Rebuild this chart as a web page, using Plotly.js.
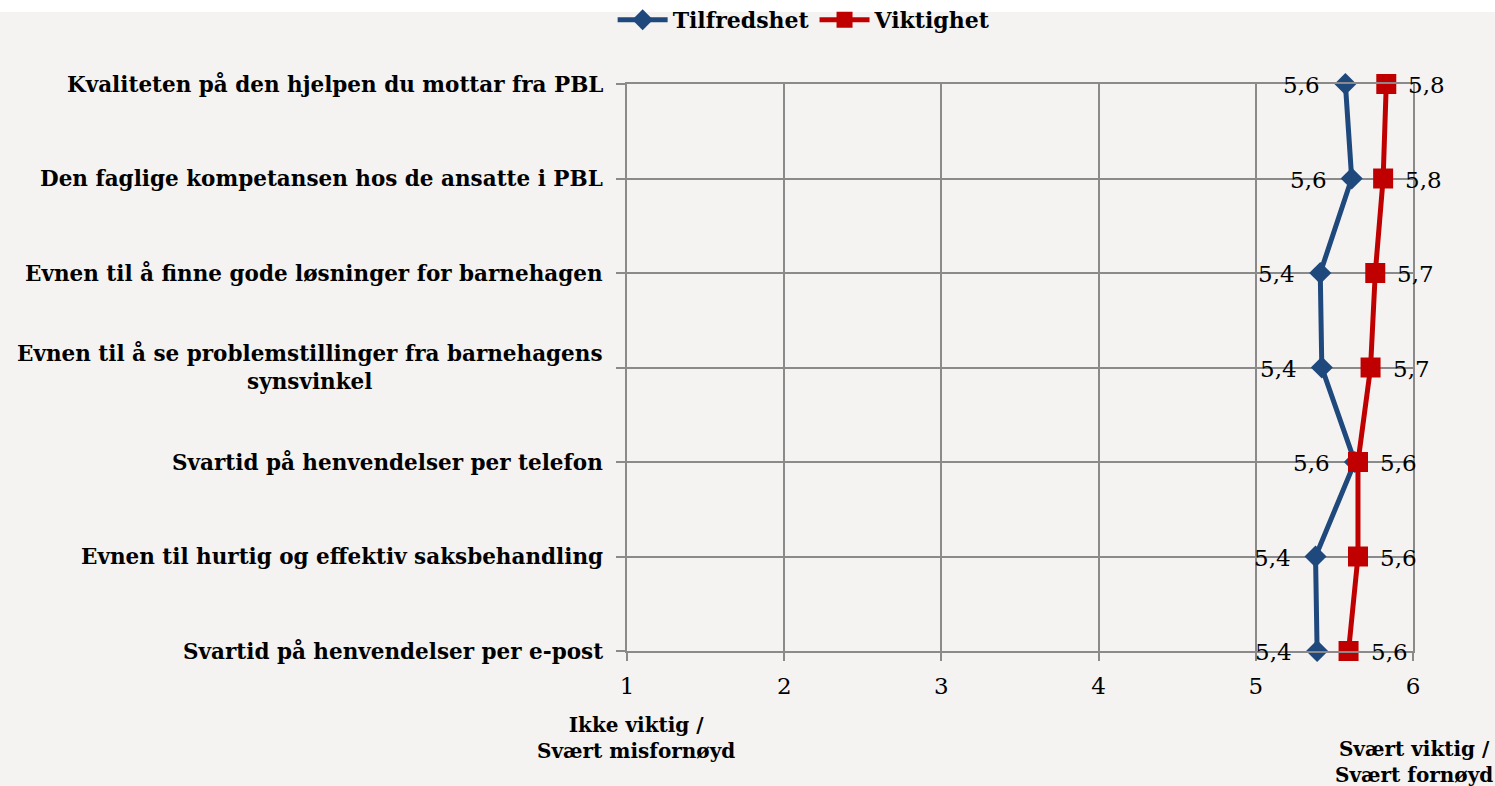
<!DOCTYPE html>
<html><head><meta charset="utf-8">
<script src="https://cdn.plot.ly/plotly-3.0.1.min.js"></script>
<style>
html,body{margin:0;padding:0;background:linear-gradient(#ffffff 0px,#ffffff 12px,#f4f3f1 12px,#f4f3f1 100%);}
#chart{width:1495px;height:786px;}
</style></head><body>
<div id="chart"></div>
<script>
const categories = [
  "Kvaliteten på den hjelpen du mottar fra PBL",
  "Den faglige kompetansen hos de ansatte i PBL",
  "Evnen til å finne gode løsninger for barnehagen",
  "Evnen til å se problemstillinger fra barnehagens<br>synsvinkel",
  "Svartid på henvendelser per telefon",
  "Evnen til hurtig og effektiv saksbehandling",
  "Svartid på henvendelser per e-post"
];
const tilfredshet = [5.57, 5.61, 5.41, 5.42, 5.63, 5.38, 5.39];
const tilfredshetLabels = ["5,6","5,6","5,4","5,4","5,6","5,4","5,4"];
const viktighet = [5.83, 5.81, 5.76, 5.73, 5.65, 5.65, 5.59];
const viktighetLabels = ["5,8","5,8","5,7","5,7","5,6","5,6","5,6"];
const xTicks = [1,2,3,4,5,6];
const axisLeftLabel = "Ikke viktig /<br>Svært misfornøyd";
const axisRightLabel = "Svært viktig /<br>Svært fornøyd";

const serif = "DejaVu Serif";
const blue = "#1f497d", red = "#c00000", grid = "#8a8a8a";

const traces = [
  {x: tilfredshet, y: categories, type: "scatter", mode: "lines+markers", name: "Tilfredshet",
   cliponaxis: false,
   line: {color: blue, width: 5}, marker: {symbol: "diamond", size: 17, color: blue}},
  {x: viktighet, y: categories, type: "scatter", mode: "lines+markers", name: "Viktighet",
   cliponaxis: false,
   line: {color: red, width: 5}, marker: {symbol: "square", size: 20, color: red}}
];

const bold = s => s.split("<br>").map(p => "<b>" + p + "</b>").join("<br>");
const annotations = categories.map(c => ({
  x: 0, xref: "paper", y: c, yref: "y", xanchor: "right", yanchor: "middle", xshift: -22,
  text: bold(c), showarrow: false, align: "center",
  font: {family: serif, size: 21.5, color: "#000"}
}));
categories.forEach((c, i) => {
  annotations.push({x: tilfredshet[i], y: c, xref: "x", yref: "y", text: tilfredshetLabels[i],
    xanchor: "right", yanchor: "middle", xshift: -23, yshift: -1, showarrow: false,
    font: {family: serif, size: 23, color: "#000"}});
  annotations.push({x: viktighet[i], y: c, xref: "x", yref: "y", text: viktighetLabels[i],
    xanchor: "left", yanchor: "middle", xshift: 20, yshift: -1, showarrow: false,
    font: {family: serif, size: 23, color: "#000"}});
});
annotations.push({x: 1, xref: "x", y: -0.105, yref: "paper", yanchor: "top", showarrow: false, xshift: 9,
  text: bold(axisLeftLabel), align: "center",
  font: {family: serif, size: 20, color: "#000"}});
annotations.push({x: 6, xref: "x", y: -0.148, yref: "paper", yanchor: "top", showarrow: false, xshift: 1,
  text: bold(axisRightLabel), align: "center",
  font: {family: serif, size: 20, color: "#000"}});

const layout = {
  width: 1495, height: 786,
  margin: {l: 627, r: 82, t: 84, b: 135, autoexpand: false},
  paper_bgcolor: "rgba(0,0,0,0)", plot_bgcolor: "rgba(0,0,0,0)",
  showlegend: true,
  legend: {orientation: "h", x: 0.226, xanchor: "center", y: 1.15, yanchor: "top",
    font: {family: serif, size: 22, color: "#000", weight: "bold"}, bgcolor: "rgba(0,0,0,0)",
    itemwidth: 50},
  xaxis: {range: [1, 6], tickvals: xTicks, ticktext: xTicks.map(String), showgrid: true,
    gridcolor: grid, gridwidth: 2, zeroline: false, showline: true, mirror: true,
    linecolor: grid, linewidth: 2,
    ticks: "outside", ticklen: 8, tickcolor: grid, tickwidth: 2, ticklabelstandoff: 5,
    tickfont: {family: serif, size: 23, color: "#000"}, fixedrange: true},
  yaxis: {type: "category", categoryarray: categories, range: [6, 0], showgrid: true,
    gridcolor: grid, gridwidth: 2, zeroline: false, showline: true, mirror: true,
    linecolor: grid, linewidth: 2, showticklabels: false,
    ticks: "outside", ticklen: 9, tickcolor: grid, tickwidth: 2, fixedrange: true},
  annotations: annotations
};
Plotly.newPlot("chart", traces, layout, {displayModeBar: false, staticPlot: true});
</script></body></html>
